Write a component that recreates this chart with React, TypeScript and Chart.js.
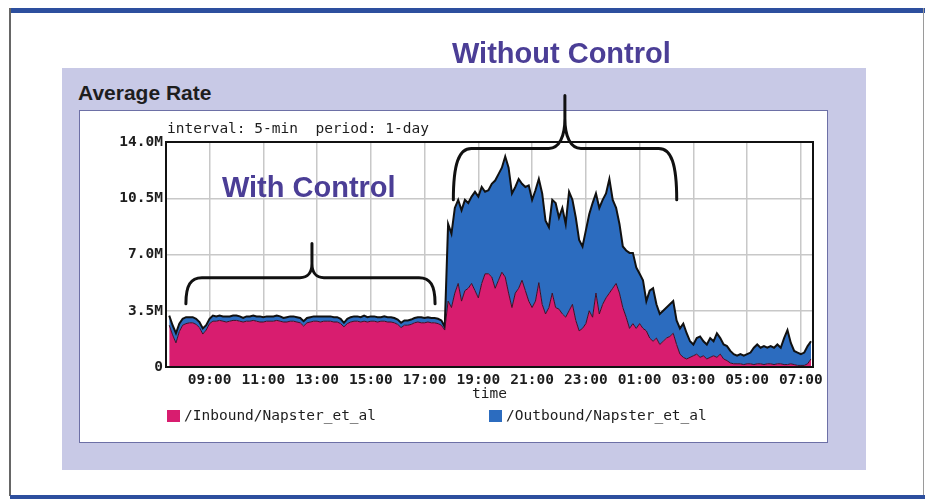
import React, { useEffect, useRef } from 'react';
import { Chart, registerables } from 'chart.js';

Chart.register(...registerables);

// ---- data ----
const START_HOUR = 7.5; // first sample 07:30
const STEP_HOURS = 0.125; // sample spacing used when reading the picture
const TICK_HOURS = [9, 11, 13, 15, 17, 19, 21, 23, 25, 27, 29, 31];
const Y_TICK_LABELS = ['0', '3.5M', '7.0M', '10.5M', '14.0M'];
const SERIES_LABELS = ['/Inbound/Napster_et_al', '/Outbound/Napster_et_al'];
const CHART_NOTE = 'interval: 5-min  period: 1-day';
const X_TITLE = 'time';
const PANEL_TITLE = 'Average Rate';
const NOTE_WITH = 'With Control';
const NOTE_WITHOUT = 'Without Control';

// inbound rate (M)
const INBOUND = [
  2.6, 2.0, 1.5, 2.2, 2.6, 2.7, 2.75, 2.75, 2.65, 2.45,
  2.05, 2.3, 2.7, 2.85, 2.85, 2.9, 2.85, 2.8, 2.85, 2.9,
  2.9, 2.85, 2.8, 2.85, 2.85, 2.9, 2.85, 2.8, 2.8, 2.85,
  2.85, 2.85, 2.9, 2.85, 2.8, 2.8, 2.85, 2.85, 2.8, 2.75,
  2.55, 2.75, 2.8, 2.85, 2.85, 2.8, 2.85, 2.85, 2.85, 2.8,
  2.8, 2.7, 2.5, 2.7, 2.8, 2.85, 2.85, 2.8, 2.85, 2.8,
  2.85, 2.85, 2.8, 2.85, 2.85, 2.8, 2.8, 2.75, 2.65, 2.45,
  2.6, 2.6, 2.65, 2.75, 2.8, 2.75, 2.75, 2.8, 2.75, 2.75,
  2.7, 2.6, 2.3,
  4.1, 3.7, 4.6, 5.2, 4.1, 4.75, 4.9, 5.2, 4.75,
  4.3, 5.2, 5.8, 5.8, 5.6, 4.9, 5.4, 5.9, 5.6, 4.6,
  3.7, 4.6, 4.9, 5.4, 4.75, 4.1, 3.7, 4.1, 5.25, 3.9,
  3.3, 3.7, 4.6, 3.7, 3.6, 3.3, 3.1, 3.5, 3.9, 2.9,
  2.25, 2.4, 2.7, 3.5, 3.1, 4.6, 3.3, 3.9, 4.3, 4.6,
  4.9, 5.2, 4.6, 3.7, 3.1, 2.4, 2.7, 2.4, 2.7, 2.4,
  2.25, 1.8, 1.6, 1.8, 1.4, 1.6, 1.8, 1.9, 2.1, 1.4,
  0.8, 0.6, 0.5, 0.6, 0.7, 0.8, 0.6, 0.7, 0.5, 0.6,
  0.7, 0.6, 0.8, 0.5, 0.4, 0.25, 0.2, 0.2, 0.2, 0.15,
  0.2, 0.2, 0.15, 0.2, 0.2, 0.15, 0.2, 0.2, 0.15, 0.2,
  0.2, 0.15, 0.15, 0.2, 0.15, 0.1, 0.1, 0.1, 0.2, 0.5,
];

// outbound rate (M), stacked on top of inbound
const OUTBOUND = [
  0.6, 0.6, 0.6, 0.5, 0.4, 0.4, 0.35, 0.35, 0.35, 0.35,
  0.35, 0.3, 0.3, 0.35, 0.3, 0.3, 0.3, 0.35, 0.3, 0.3,
  0.3, 0.3, 0.25, 0.3, 0.3, 0.3, 0.3, 0.35, 0.3, 0.3,
  0.3, 0.3, 0.3, 0.3, 0.25, 0.3, 0.3, 0.3, 0.3, 0.3,
  0.3, 0.3, 0.3, 0.3, 0.3, 0.35, 0.3, 0.3, 0.3, 0.3,
  0.3, 0.3, 0.25, 0.3, 0.3, 0.3, 0.3, 0.3, 0.35, 0.3,
  0.3, 0.3, 0.3, 0.25, 0.3, 0.3, 0.3, 0.3, 0.3, 0.3,
  0.3, 0.3, 0.3, 0.3, 0.3, 0.35, 0.3, 0.3, 0.3, 0.3,
  0.3, 0.3, 0.2,
  4.8, 4.6, 5.3, 5.2, 5.65, 5.65, 5.3, 5.4, 6.15,
  6.3, 6.0, 5.1, 5.2, 5.8, 6.7, 6.6, 6.5, 7.5, 7.8,
  7.1, 6.6, 6.8, 6.0, 6.45, 7.2, 6.7, 6.9, 6.45, 6.9,
  5.8, 5.0, 5.8, 6.5, 5.7, 6.6, 5.8, 7.4, 6.5, 6.4,
  5.65, 5.1, 5.8, 6.0, 7.1, 6.2, 6.6, 6.5, 6.5, 7.1,
  5.5, 4.7, 4.3, 3.8, 4.15, 4.7, 4.4, 3.8, 3.1, 3.0,
  1.85, 2.95, 3.3, 2.1, 1.9, 1.9, 1.9, 2.0, 2.0, 1.5,
  1.6, 2.1, 1.6, 1.0, 0.7, 1.0, 1.3, 0.9, 0.9, 1.2,
  0.9, 1.5, 1.0, 0.9, 0.9, 0.75, 0.6, 0.5, 0.6, 0.55,
  0.6, 0.7, 1.05, 1.2, 1.0, 1.15, 1.0, 1.1, 1.05, 1.2,
  1.0, 1.65, 2.15, 1.3, 0.85, 0.8, 0.7, 0.8, 1.1, 1.1,
];

// ---- annotation placement (data space) ----
const BRACES = [
  { from: 8.12, to: 17.39, mid: 12.81, end: 3.94, line: 5.56, tip: 7.69, cornerDx: 16, neckDx: 12, neckDy: 14 },
  { from: 18.07, to: 26.38, mid: 22.22, end: 10.4, line: 13.6, tip: 16.9, cornerDx: 18, neckDx: 16, neckDy: 30 },
];
const NOTES = [
  { text: NOTE_WITH, x: 9.46, y: 10.58 },
  { text: NOTE_WITHOUT, x: 18.02, y: 18.92 },
];

// ---- styles ----
const MAGENTA = '#d81d6f';
const BLUE = '#2c6cbf';
const PURPLE = '#4b3e96';
const MONO = '"DejaVu Sans Mono", monospace';
const SANS = '"Liberation Sans", Arial, sans-serif';

const hourLabel = (v: number) => String(((v % 24) + 24) % 24).padStart(2, '0') + ':00';

function drawBrace(ctx: CanvasRenderingContext2D, x1: number, x2: number, xm: number, yEnd: number, yLine: number, yTip: number, cornerDx: number, neckDx: number, neckDy: number) {
  const yNeck = yLine - neckDy;
  ctx.beginPath();
  ctx.moveTo(x1, yEnd);
  ctx.bezierCurveTo(x1, yLine + (yEnd - yLine) * 0.3, x1 + cornerDx * 0.3, yLine, x1 + cornerDx, yLine);
  ctx.lineTo(xm - neckDx, yLine);
  ctx.bezierCurveTo(xm - neckDx * 0.35, yLine, xm, yLine - neckDy * 0.4, xm, yNeck);
  ctx.lineTo(xm, yTip);
  ctx.moveTo(xm, yNeck);
  ctx.bezierCurveTo(xm, yLine - neckDy * 0.4, xm + neckDx * 0.35, yLine, xm + neckDx, yLine);
  ctx.lineTo(x2 - cornerDx, yLine);
  ctx.bezierCurveTo(x2 - cornerDx * 0.3, yLine, x2, yLine + (yEnd - yLine) * 0.3, x2, yEnd);
  ctx.stroke();
}

const framePlugin = {
  id: 'plotFrame',
  afterDatasetsDraw(chart: any) {
    const { ctx, chartArea: a } = chart;
    ctx.save();
    ctx.strokeStyle = '#111';
    ctx.lineWidth = 2;
    ctx.strokeRect(a.left, a.top, a.right - a.left, a.bottom - a.top);
    ctx.restore();
  },
};

const annotationPlugin = {
  id: 'annotations',
  afterDraw(chart: any) {
    const { ctx, chartArea: a, scales } = chart;
    const xs = scales.x;
    const ys = scales.y;
    ctx.save();
    // chart note above plot
    ctx.font = `14.5px ${MONO}`;
    ctx.fillStyle = '#1d1d1d';
    ctx.textAlign = 'left';
    ctx.textBaseline = 'middle';
    ctx.fillText(CHART_NOTE, a.left + 1, a.top - 13);

    // legend
    const colors = [MAGENTA, BLUE];
    const legendX = [a.left + 1, a.left + 323];
    const legendY = a.bottom + 49;
    SERIES_LABELS.forEach((label, i) => {
      ctx.fillStyle = colors[i];
      ctx.fillRect(legendX[i], legendY - 6, 13, 12);
      ctx.fillStyle = '#1d1d1d';
      ctx.fillText(label, legendX[i] + 17, legendY);
    });

    // braces
    ctx.strokeStyle = '#111';
    ctx.lineWidth = 3;
    ctx.lineCap = 'round';
    ctx.lineJoin = 'round';
    BRACES.forEach((b) => {
      drawBrace(
        ctx,
        xs.getPixelForValue(b.from),
        xs.getPixelForValue(b.to),
        xs.getPixelForValue(b.mid),
        ys.getPixelForValue(b.end),
        ys.getPixelForValue(b.line),
        ys.getPixelForValue(b.tip),
        b.cornerDx,
        b.neckDx,
        b.neckDy,
      );
    });

    // notes
    ctx.font = `bold 29px ${SANS}`;
    ctx.fillStyle = PURPLE;
    ctx.textBaseline = 'alphabetic';
    NOTES.forEach((n) => {
      ctx.fillText(n.text, xs.getPixelForValue(n.x), ys.getPixelForValue(n.y));
    });
    ctx.restore();
  },
};

export default function App() {
  const canvasRef = useRef<HTMLCanvasElement | null>(null);

  useEffect(() => {
    const canvas = canvasRef.current;
    if (!canvas) return;
    const toPoints = (arr: number[]) => arr.map((v, i) => ({ x: START_HOUR + i * STEP_HOURS, y: v }));
    const chart = new Chart(canvas, {
      type: 'line',
      data: {
        datasets: [
          {
            label: SERIES_LABELS[0],
            data: toPoints(INBOUND),
            fill: 'origin',
            backgroundColor: MAGENTA,
            borderColor: '#3a0f27',
            borderWidth: 1,
            pointRadius: 0,
            tension: 0,
          },
          {
            label: SERIES_LABELS[1],
            data: toPoints(OUTBOUND),
            fill: '-1',
            backgroundColor: BLUE,
            borderColor: '#111',
            borderWidth: 2,
            pointRadius: 0,
            tension: 0,
          },
        ],
      },
      options: {
        responsive: false,
        animation: false,
        events: [],
        layout: { padding: { left: 0, top: 142, right: 118, bottom: 92 } },
        plugins: {
          legend: { display: false },
          title: { display: false },
          tooltip: { enabled: false },
        },
        scales: {
          x: {
            type: 'linear',
            min: 7.38,
            max: 31.45,
            afterBuildTicks: (scale: any) => {
              scale.ticks = TICK_HOURS.map((v) => ({ value: v }));
            },
            afterFit: (scale: any) => {
              scale.height = 40;
            },
            ticks: {
              autoSkip: false,
              maxRotation: 0,
              padding: 5,
              color: '#1d1d1d',
              font: { family: MONO, size: 14.5, weight: 'bold' },
              callback: (v: any) => hourLabel(Number(v)),
            },
            grid: { color: '#c8c8c8', lineWidth: 1.5, drawTicks: false },
            border: { display: true, color: '#111', width: 2 },
            title: {
              display: true,
              text: X_TITLE,
              color: '#1d1d1d',
              font: { family: MONO, size: 14.5 },
              padding: { top: 0, bottom: 4 },
            },
          },
          y: {
            stacked: true,
            min: 0,
            max: 14,
            afterFit: (scale: any) => {
              scale.width = 166;
            },
            ticks: {
              stepSize: 3.5,
              padding: 3,
              color: '#1d1d1d',
              font: { family: MONO, size: 14.5, weight: 'bold' },
              callback: (_v: any, i: number) => Y_TICK_LABELS[i],
            },
            grid: { color: '#c8c8c8', lineWidth: 1.5, drawTicks: false },
            border: { display: true, color: '#111', width: 2 },
          },
        },
      },
      plugins: [framePlugin, annotationPlugin],
    } as any);
    return () => chart.destroy();
  }, []);

  const abs = (s: React.CSSProperties): React.CSSProperties => ({ position: 'absolute', ...s });

  return (
    <div style={{ position: 'fixed', left: 0, top: 0, width: 931, height: 499, background: '#fff', overflow: 'hidden' }}>
      <div style={abs({ left: 10, top: 8, width: 915, height: 5, background: '#2d4f9e' })} />
      <div style={abs({ left: 9, top: 8, width: 2, height: 488, background: '#666' })} />
      <div style={abs({ left: 923, top: 8, width: 1, height: 488, background: '#9a9a9a' })} />
      <div style={abs({ left: 10, top: 495, width: 915, height: 4, background: '#2d4f9e' })} />
      <div style={abs({ left: 62, top: 68, width: 804, height: 402, background: '#c8c9e6' })} />
      <div style={abs({ left: 79, top: 110, width: 749, height: 333, background: '#fff', border: '1px solid #6d70a6', boxSizing: 'border-box' })} />
      <div
        style={abs({
          left: 78,
          top: 82,
          font: `bold 21px ${SANS}`,
          lineHeight: '21px',
          color: '#1e1e1e',
          whiteSpace: 'nowrap',
        })}
      >
        {PANEL_TITLE}
      </div>
      <canvas ref={canvasRef} width={931} height={499} style={abs({ left: 0, top: 0, width: 931, height: 499, zIndex: 1 })} />
    </div>
  );
}
